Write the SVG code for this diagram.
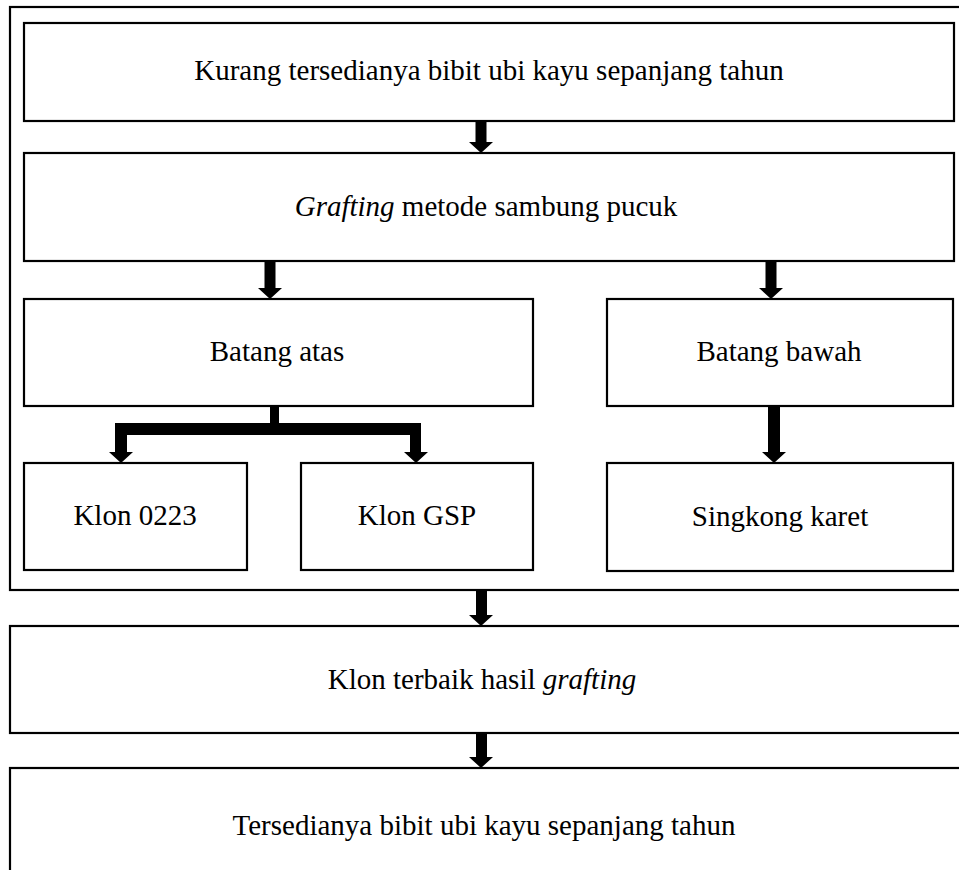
<svg xmlns="http://www.w3.org/2000/svg" width="959" height="870" viewBox="0 0 959 870">
<style>
  .box { fill: #ffffff; stroke: #000000; stroke-width: 2.2; }
  .frame { fill: none; stroke: #000000; stroke-width: 2.2; }
  .lbl { font-family: "Liberation Serif", "Times New Roman", serif; font-size: 29px; fill: #000000; text-anchor: middle; }
  .it { font-style: italic; }
  .arr { fill: #000000; stroke: none; }
</style>
<rect x="0" y="0" width="959" height="870" fill="#ffffff"/>
<g id="frame">
  <rect class="frame" x="10" y="7" width="970" height="583"/>
</g>
<g id="n1">
  <rect class="box" x="24" y="23" width="930" height="98"/>
  <text class="lbl" x="489" y="80">Kurang tersedianya bibit ubi kayu sepanjang tahun</text>
</g>
<g id="n2">
  <rect class="box" x="24" y="153" width="930" height="108"/>
  <text class="lbl" x="486" y="216"><tspan class="it">Grafting</tspan> metode sambung pucuk</text>
</g>
<g id="n3">
  <rect class="box" x="24" y="299" width="509" height="107"/>
  <text class="lbl" x="277" y="361">Batang atas</text>
</g>
<g id="n4">
  <rect class="box" x="607" y="299" width="346" height="107"/>
  <text class="lbl" x="779" y="361">Batang bawah</text>
</g>
<g id="n5">
  <rect class="box" x="24" y="463" width="223" height="107"/>
  <text class="lbl" x="135" y="525">Klon 0223</text>
</g>
<g id="n6">
  <rect class="box" x="301" y="463" width="232" height="107"/>
  <text class="lbl" x="417" y="525">Klon GSP</text>
</g>
<g id="n7">
  <rect class="box" x="607" y="463" width="346" height="108"/>
  <text class="lbl" x="780" y="526">Singkong karet</text>
</g>
<g id="n8">
  <rect class="box" x="10" y="626" width="970" height="107"/>
  <text class="lbl" x="482" y="689">Klon terbaik hasil <tspan class="it">grafting</tspan></text>
</g>
<g id="n9">
  <rect class="box" x="10" y="768" width="970" height="120"/>
  <text class="lbl" x="484" y="835">Tersedianya bibit ubi kayu sepanjang tahun</text>
</g>
<g id="connectors">
  <!-- n1 -> n2 -->
  <polygon class="arr" points="475.5,121 486.5,121 486.5,142 493,142 481,153 469,142 475.5,142"/>
  <!-- n2 -> n3 -->
  <polygon class="arr" points="264.5,261 275.5,261 275.5,288 282,288 270,299 258,288 264.5,288"/>
  <!-- n2 -> n4 -->
  <polygon class="arr" points="765.5,261 776.5,261 776.5,288 783,288 771,299 759,288 765.5,288"/>
  <!-- n3 -> n5, n6 branch -->
  <polygon class="arr" points="270,406 279,406 279,423 421,423 421,452 428,452 416,463 404,452 410,452 410,435 127,435 127,452 133,452 121,463 109,452 115,452 115,423 270,423"/>
  <!-- n4 -> n7 -->
  <polygon class="arr" points="768,406 780,406 780,452 786,452 774,463 762,452 768,452"/>
  <!-- frame -> n8 -->
  <polygon class="arr" points="476,590 487,590 487,615 493,615 481,626 469,615 476,615"/>
  <!-- n8 -> n9 -->
  <polygon class="arr" points="476,733 487,733 487,757 493,757 481,768 469,757 476,757"/>
</g>
</svg>
